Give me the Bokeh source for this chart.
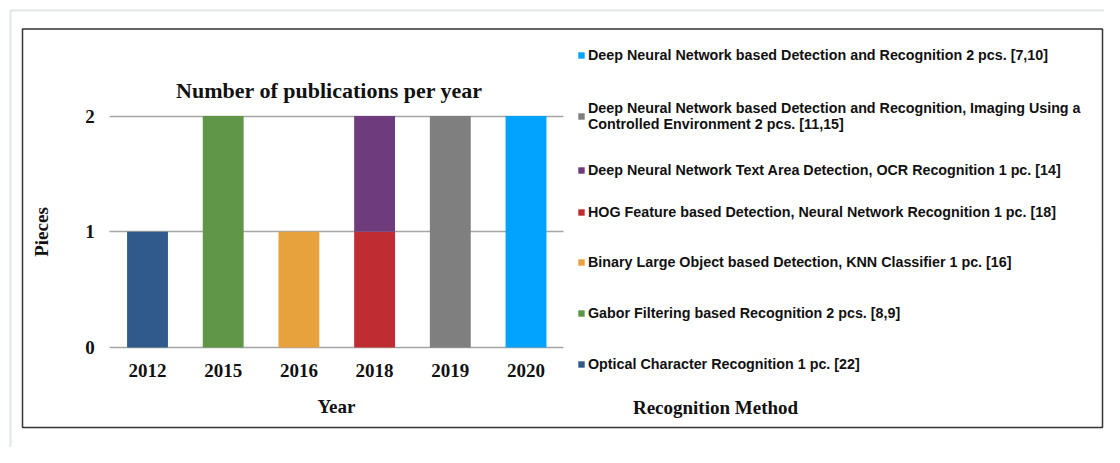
from bokeh.plotting import figure
from bokeh.models import (Range1d, FixedTicker, Legend, LegendItem, Label,
                          BoxAnnotation, Grid, ColumnDataSource)
from bokeh.embed import file_html
from bokeh.resources import INLINE

years = ["2012", "2015", "2016", "2018", "2019", "2020"]
methods = ["ocr", "gabor", "blob", "hog", "dnn_text", "dnn_env", "dnn"]
ocr = [1, 0, 0, 0, 0, 0]
gabor = [0, 2, 0, 0, 0, 0]
blob = [0, 0, 1, 0, 0, 0]
hog = [0, 0, 0, 1, 0, 0]
dnn_text = [0, 0, 0, 1, 0, 0]
dnn_env = [0, 0, 0, 0, 2, 0]
dnn = [0, 0, 0, 0, 0, 2]
labels = [
    "Optical Character Recognition 1 pc. [22]",
    "Gabor Filtering based Recognition 2 pcs. [8,9]",
    "Binary Large Object based Detection, KNN Classifier 1 pc. [16]",
    "HOG Feature based Detection, Neural Network Recognition 1 pc. [18]",
    "Deep Neural Network Text Area Detection, OCR Recognition 1 pc. [14]",
    "Deep Neural Network based Detection and Recognition, Imaging Using a\nControlled Environment 2 pcs. [11,15]",
    "Deep Neural Network based Detection and Recognition 2 pcs. [7,10]",
]
colors = ["#2f5a8b", "#5f9648", "#e7a13d", "#bf2d33", "#6e3c7c", "#7f7f7f", "#01a3ff"]
y_ticks = [0, 1, 2]
title_text = "Number of publications per year"
legend_title = "Recognition Method"

pos = list(range(len(years)))
source = ColumnDataSource(dict(x=pos, ocr=ocr, gabor=gabor, blob=blob, hog=hog,
                               dnn_text=dnn_text, dnn_env=dnn_env, dnn=dnn))

SERIF = "Liberation Serif"
SANS = "Liberation Sans"
W, H = 1104, 447

p = figure(width=W, height=H, x_range=Range1d(-1.942, 12.642),
           y_range=Range1d(-0.864, 2.998),
           output_backend="svg", toolbar_location=None,
           min_border=0, min_border_left=0, min_border_right=0,
           min_border_top=0, min_border_bottom=0, title=None)
p.outline_line_color = None
p.background_fill_color = "white"
p.border_fill_color = "white"

renderers = p.vbar_stack(methods, x="x", width=0.54, source=source,
                         color=colors, line_color=None)

p.xgrid.grid_line_color = None
if "cross_bounds" in Grid.properties():
    p.ygrid.cross_bounds = (-0.5, len(years) - 0.5)
    p.ygrid.ticker = FixedTicker(ticks=y_ticks)
    p.ygrid.grid_line_color = "#a5a5a5"
    p.ygrid.grid_line_width = 1.5
else:
    p.ygrid.grid_line_color = None
    p.segment(x0=[-0.5] * len(y_ticks), x1=[len(years) - 0.5] * len(y_ticks),
              y0=y_ticks, y1=y_ticks, line_color="#a5a5a5", line_width=1.5,
              level="underlay")

p.yaxis.ticker = FixedTicker(ticks=y_ticks)
p.xaxis.ticker = FixedTicker(ticks=pos)
p.xaxis.major_label_overrides = {i: y for i, y in zip(pos, years)}
p.xaxis.fixed_location = 0
p.yaxis.fixed_location = -0.5
p.xaxis.bounds = (-0.5, len(years) - 0.5)
p.yaxis.bounds = (0, 2)

for ax in (p.xaxis, p.yaxis):
    ax.axis_line_color = None
    ax.major_tick_line_color = None
    ax.minor_tick_line_color = None
    ax.major_tick_out = 0
    ax.major_tick_in = 0
    ax.minor_tick_out = 0
    ax.minor_tick_in = 0
    ax.major_label_text_font = SERIF
    ax.major_label_text_font_size = "19px"
    ax.major_label_text_font_style = "bold"
    ax.major_label_text_color = "#111111"
    ax.axis_label_text_font = SERIF
    ax.axis_label_text_font_size = "19px"
    ax.axis_label_text_font_style = "bold"
    ax.axis_label_text_color = "#111111"

p.xaxis.axis_label = "Year"
p.yaxis.axis_label = "Pieces"
p.xaxis.major_label_standoff = 17
p.xaxis.axis_label_standoff = 15
p.yaxis.major_label_standoff = 15
p.yaxis.axis_label_standoff = 30

# title
p.add_layout(Label(x=329, y=H - 90, x_units="screen", y_units="screen",
                   text=title_text, text_font=SERIF, text_font_size="22px",
                   text_font_style="bold", text_color="#111111",
                   text_align="center", text_baseline="middle"))

# legend: one legend per item so positions follow the reference
centers = [364, 313, 262, 212, 170, 116, 55]
heights = [16, 16, 16, 16, 16, 36, 16]
for r, lab, cy, h in zip(renderers, labels, centers, heights):
    leg = Legend(items=[LegendItem(label=lab, renderers=[r])],
                 location=(577, H - (cy + h / 2)),
                 orientation="vertical", padding=0, margin=0, spacing=0,
                 glyph_width=8, glyph_height=8, label_height=h,
                 label_standoff=3, border_line_color=None,
                 background_fill_alpha=0,
                 label_text_font=SANS, label_text_font_size="14.3px",
                 label_text_font_style="bold", label_text_color="#111111")
    p.add_layout(leg, "center")

p.add_layout(Label(x=715, y=H - 407, x_units="screen", y_units="screen",
                   text=legend_title, text_font=SERIF, text_font_size="19px",
                   text_font_style="bold", text_color="#111111",
                   text_align="center", text_baseline="middle"))

# outer frames
p.add_layout(BoxAnnotation(left=10, right=1300, top=10, bottom=900,
                           left_units="canvas", right_units="canvas",
                           top_units="canvas", bottom_units="canvas",
                           fill_color=None, line_color="#e1e6eb",
                           line_alpha=1, line_width=2))
p.add_layout(BoxAnnotation(left=22, right=W - 2, top=28.5, bottom=427,
                           left_units="canvas", right_units="canvas",
                           top_units="canvas", bottom_units="canvas",
                           fill_color=None, line_color="#333333",
                           line_alpha=1, line_width=1.5))

open("out.html", "w").write(file_html(p, INLINE))
